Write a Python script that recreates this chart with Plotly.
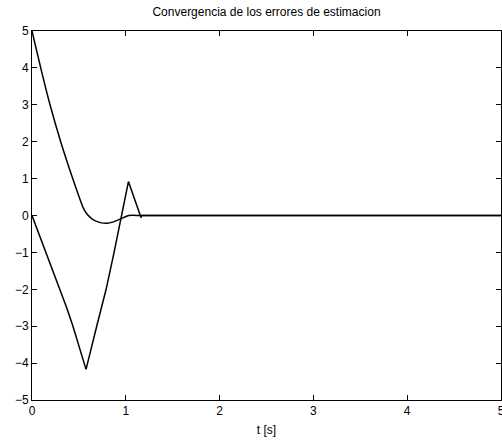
import plotly.graph_objects as go

# Estimation error trajectories
t_err1 = [0, 0.093, 0.192, 0.306, 0.434, 0.5, 0.548, 0.58, 0.62, 0.67, 0.74,
          0.8, 0.86, 0.92, 0.98, 1.03, 1.07, 1.12, 5]
err1 = [5, 4, 3, 2, 1, 0.52, 0.2, 0.06, -0.05, -0.14, -0.2,
        -0.21, -0.18, -0.12, -0.05, 0.0, 0.01, 0, 0]

t_err2 = [0, 0.15, 0.30, 0.37, 0.435, 0.505, 0.576, 0.69, 0.79, 0.875, 0.957,
          1.028, 1.163, 1.165, 5]
err2 = [0, -1, -2.02, -2.5, -2.99, -3.55, -4.17, -3, -2, -1, 0,
        0.92, -0.06, 0, 0]

x_ticks = [0, 1, 2, 3, 4, 5]
y_ticks = [-5, -4, -3, -2, -1, 0, 1, 2, 3, 4, 5]

FONT = "Liberation Sans, Arial, Helvetica, sans-serif"

fig = go.Figure()
fig.add_trace(go.Scatter(x=t_err1, y=err1, mode="lines",
                         line=dict(color="black", width=1.5, shape="spline", smoothing=0.8),
                         showlegend=False))
fig.add_trace(go.Scatter(x=t_err2, y=err2, mode="lines",
                         line=dict(color="black", width=1.5),
                         showlegend=False))

axis_common = dict(
    showgrid=False, zeroline=False,
    showline=True, linecolor="black", linewidth=1, mirror="ticks",
    ticks="inside", ticklen=5, tickwidth=1, tickcolor="black",
    tickfont=dict(family=FONT, size=12, color="black"),
    ticklabeloverflow="allow", automargin=False,
)

fig.update_layout(
    width=502, height=445,
    margin=dict(l=32, r=1, t=31, b=45),
    paper_bgcolor="white", plot_bgcolor="white",
    title=dict(text="Convergencia de los errores de estimacion",
               x=266.5 / 502, xanchor="center", y=0.982, yanchor="top",
               font=dict(family=FONT, size=12, color="black")),
    xaxis=dict(range=[0, 5], tickvals=x_ticks,
               title=dict(text="t [s]", standoff=8,
                          font=dict(family=FONT, size=12, color="black")),
               **axis_common),
    yaxis=dict(range=[-5, 5], tickvals=y_ticks, **axis_common),
)

fig.write_html("out.html")
